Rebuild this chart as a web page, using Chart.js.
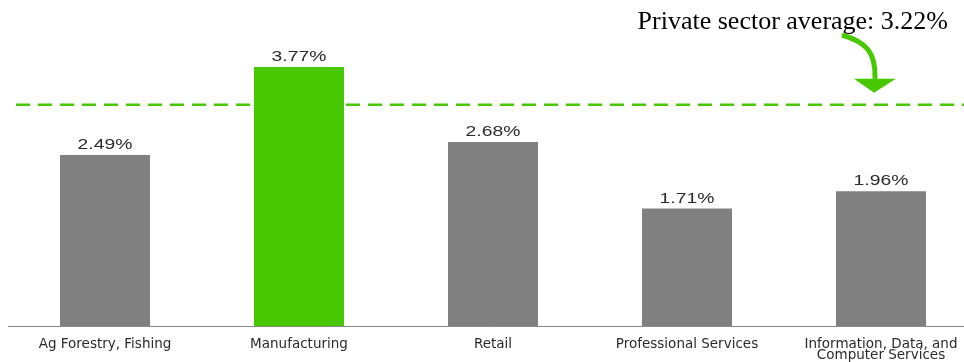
<!DOCTYPE html>
<html>
<head>
<meta charset="utf-8">
<script src="https://cdn.jsdelivr.net/npm/chart.js@4/dist/chart.umd.min.js"></script>
<style>
  html, body { margin: 0; padding: 0; background: #fff; overflow: hidden; }
  #wrap { position: relative; width: 978px; height: 362px; }
</style>
</head>
<body>
<div id="wrap"><canvas id="c"></canvas></div>
<script>
// Industry categories and their rates (%)
const categories = [
  'Ag Forestry, Fishing',
  'Manufacturing',
  'Retail',
  'Professional Services',
  ['Information, Data, and', 'Computer Services']
];
const rates = [2.49, 3.77, 2.68, 1.71, 1.96];
const highlighted = [false, true, false, false, false];
const privateAverage = 3.22;
const averageLabel = 'Private sector average: 3.22%';

const GREEN = '#48c800';
const GREY = '#808080';

// Value labels above each bar (slightly widened Arial)
const valueLabels = {
  id: 'valueLabels',
  afterDatasetsDraw(chart) {
    const { ctx } = chart;
    const meta = chart.getDatasetMeta(0);
    const sx = 1.38;
    ctx.save();
    ctx.font = '14px "Liberation Sans", Arial, sans-serif';
    ctx.fillStyle = '#2a2a2a';
    ctx.textAlign = 'center';
    ctx.textBaseline = 'alphabetic';
    meta.data.forEach((bar, i) => {
      ctx.save();
      ctx.translate(bar.x, bar.y - 6);
      ctx.scale(sx, 1);
      ctx.fillText(rates[i].toFixed(2) + '%', 0, 0);
      ctx.restore();
    });
    ctx.restore();
  }
};

// Dashed average line (behind the bars)
const averageLine = {
  id: 'averageLine',
  beforeDatasetsDraw(chart) {
    const { ctx } = chart;
    const y = chart.scales.y.getPixelForValue(privateAverage);
    ctx.save();
    ctx.strokeStyle = GREEN;
    ctx.lineWidth = 2.5;
    ctx.setLineDash([14, 8]);
    ctx.beginPath();
    ctx.moveTo(16, y);
    ctx.lineTo(978, y);
    ctx.stroke();
    ctx.restore();
  },
  // callout text with a curved arrow pointing down at the line
  afterDatasetsDraw(chart) {
    const { ctx } = chart;
    const y = chart.scales.y.getPixelForValue(privateAverage);
    ctx.save();
    ctx.font = '26px "Liberation Serif", "Times New Roman", serif';
    ctx.fillStyle = '#000';
    ctx.textAlign = 'right';
    ctx.textBaseline = 'alphabetic';
    ctx.fillText(averageLabel, 948, 29);

    const tipY = y - 12;
    ctx.strokeStyle = GREEN;
    ctx.fillStyle = GREEN;
    ctx.lineWidth = 5;
    ctx.beginPath();
    ctx.moveTo(842, 35);
    ctx.bezierCurveTo(866, 42, 876, 52, 875, tipY - 14);
    ctx.stroke();
    ctx.beginPath();
    ctx.moveTo(854, tipY - 14);
    ctx.lineTo(896, tipY - 14);
    ctx.lineTo(874, tipY);
    ctx.closePath();
    ctx.fill();
    ctx.restore();
  }
};

new Chart(document.getElementById('c'), {
  type: 'bar',
  data: {
    labels: categories,
    datasets: [{
      data: rates,
      backgroundColor: highlighted.map(h => h ? GREEN : GREY),
      categoryPercentage: 1,
      barPercentage: 0.464
    }]
  },
  options: {
    responsive: true,
    maintainAspectRatio: false,
    animation: false,
    layout: { padding: { top: 10, left: 8, right: 0, bottom: 0 } },
    plugins: {
      legend: { display: false },
      tooltip: { enabled: false }
    },
    scales: {
      x: {
        grid: { display: false },
        border: { display: true, color: '#8a8a8a', width: 1 },
        ticks: {
          color: '#2a2a2a',
          font: { family: '"DejaVu Sans", sans-serif', size: 13.5, lineHeight: 0.815 },
          padding: 5,
          maxRotation: 0,
          autoSkip: false
        },
        afterFit(scale) { scale.height = 36; }
      },
      y: {
        display: false,
        min: 0,
        max: 4.6
      }
    }
  },
  plugins: [valueLabels, averageLine]
});
</script>
</body>
</html>
